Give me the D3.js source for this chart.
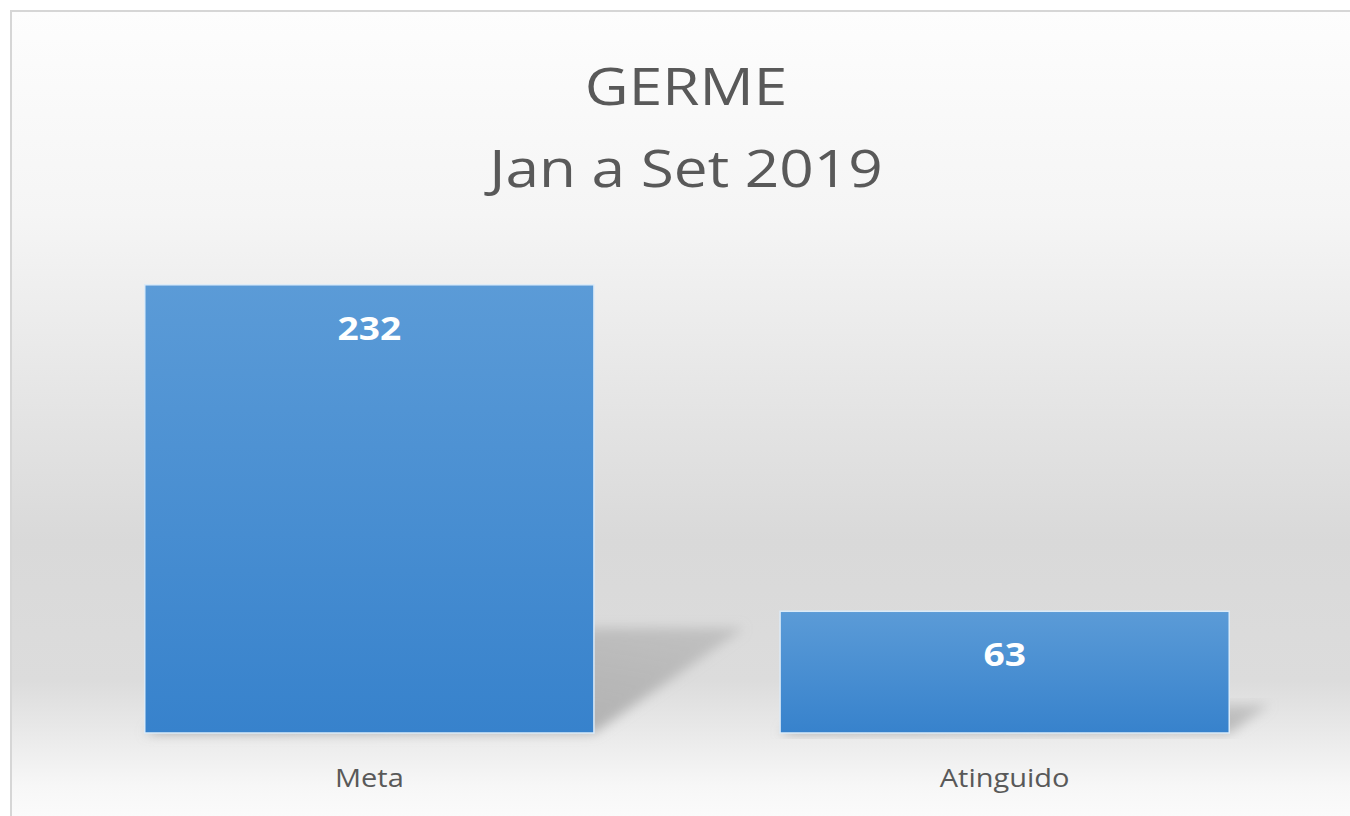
<!DOCTYPE html>
<html>
<head>
<meta charset="utf-8">
<script src="https://cdn.jsdelivr.net/npm/d3@7"></script>
<style>
  html, body { margin: 0; padding: 0; background: #fff; }
  svg { display: block; }
</style>
</head>
<body>
<div id="viz"></div>
<script>
// Bar chart: goal vs achieved, Jan to Sep 2019
var categories = ["Meta", "Atinguido"];
var values = [232, 63];
var titleLines = ["GERME", "Jan a Set 2019"];

var width = 1350;
var height = 816;
var baseY = 733;
var textColor = "#595959";
var font = "'Open Sans', sans-serif";
var stretch = 1.16; // the original text is wider than Open Sans

var svg = d3.select("#viz")
    .append("svg")
    .attr("width", width)
    .attr("height", height);

var defs = svg.append("defs");

// chart area background: white at top, grey in the middle, light at bottom
var bg = defs.append("linearGradient")
    .attr("id", "bg")
    .attr("x1", 0).attr("y1", 0).attr("x2", 0).attr("y2", 1);
bg.append("stop").attr("offset", "0").attr("stop-color", "#fdfdfd");
bg.append("stop").attr("offset", "0.25").attr("stop-color", "#f5f5f5");
bg.append("stop").attr("offset", "0.65").attr("stop-color", "#d9d9d9");
bg.append("stop").attr("offset", "0.82").attr("stop-color", "#dcdcdc");
bg.append("stop").attr("offset", "0.95").attr("stop-color", "#f7f7f7");
bg.append("stop").attr("offset", "1").attr("stop-color", "#fcfcfc");

var barGrad = defs.append("linearGradient")
    .attr("id", "barGrad")
    .attr("x1", 0).attr("y1", 0).attr("x2", 0).attr("y2", 1);
barGrad.append("stop").attr("offset", "0").attr("stop-color", "#5b9bd7");
barGrad.append("stop").attr("offset", "1").attr("stop-color", "#3782cc");

var shadowGrad = defs.append("linearGradient")
    .attr("id", "shadowGrad")
    .attr("x1", 0).attr("y1", 1).attr("x2", 1).attr("y2", 0);
shadowGrad.append("stop").attr("offset", "0").attr("stop-color", "#9a9a9a").attr("stop-opacity", 0.9);
shadowGrad.append("stop").attr("offset", "1").attr("stop-color", "#a8a8a8").attr("stop-opacity", 0.5);

defs.append("filter")
    .attr("id", "blur")
    .attr("x", "-20%").attr("y", "-20%").attr("width", "140%").attr("height", "140%")
    .append("feGaussianBlur").attr("stdDeviation", 6);

svg.append("rect")
    .attr("x", 11).attr("y", 11)
    .attr("width", width).attr("height", height)
    .attr("fill", "url(#bg)")
    .attr("stroke", "#d6d6d6")
    .attr("stroke-width", 2);

var x = d3.scaleBand()
    .domain(categories)
    .range([52, 1322])
    .paddingInner(0.293)
    .paddingOuter(0.146);

var y = d3.scaleLinear()
    .domain([0, 250])
    .range([baseY, 250]);

// perspective shadows thrown to the right of each bar
svg.append("g").attr("id", "shadows")
    .selectAll("polygon")
    .data(values)
    .join("polygon")
    .attr("points", function(d, i) {
        var x0 = x(categories[i]), x1 = x0 + x.bandwidth();
        var h = baseY - y(d);
        var dx = 0.335 * h, dy = 0.234 * h;
        return [[x0, baseY], [x1, baseY], [x1 + dx, baseY - dy], [x0 + dx, baseY - dy]]
            .map(function(p) { return p.join(","); }).join(" ");
    })
    .attr("fill", "url(#shadowGrad)")
    .attr("filter", "url(#blur)");

svg.append("g").attr("id", "bars")
    .selectAll("rect")
    .data(values)
    .join("rect")
    .attr("x", function(d, i) { return x(categories[i]); })
    .attr("y", function(d) { return y(d); })
    .attr("width", x.bandwidth())
    .attr("height", function(d) { return baseY - y(d); })
    .attr("fill", "url(#barGrad)")
    .attr("stroke", "#dcebf8")
    .attr("stroke-width", 1.5);

svg.append("g").attr("id", "values")
    .selectAll("text")
    .data(values)
    .join("text")
    .attr("transform", function(d, i) {
        var cx = x(categories[i]) + x.bandwidth() / 2;
        return "translate(" + cx + "," + (y(d) + 55) + ") scale(" + stretch + ",1)";
    })
    .attr("text-anchor", "middle")
    .attr("font-family", font)
    .attr("font-weight", "bold")
    .attr("font-size", 32)
    .attr("fill", "#ffffff")
    .text(function(d) { return d; });

// category axis, labels only
var xAxis = svg.append("g")
    .attr("transform", "translate(0," + baseY + ")")
    .call(d3.axisBottom(x).tickSize(0).tickPadding(36));
xAxis.select(".domain").remove();
xAxis.selectAll("text")
    .attr("transform", "scale(" + stretch + ",1)")
    .attr("font-family", font)
    .attr("font-size", 25)
    .attr("fill", textColor);

svg.append("g").attr("id", "title")
    .selectAll("text")
    .data(titleLines)
    .join("text")
    .attr("transform", function(d, i) {
        return "translate(686," + (105 + i * 82) + ") scale(" + stretch + ",1)";
    })
    .attr("text-anchor", "middle")
    .attr("font-family", font)
    .attr("font-size", 52)
    .attr("fill", textColor)
    .text(function(d) { return d; });
</script>
</body>
</html>
